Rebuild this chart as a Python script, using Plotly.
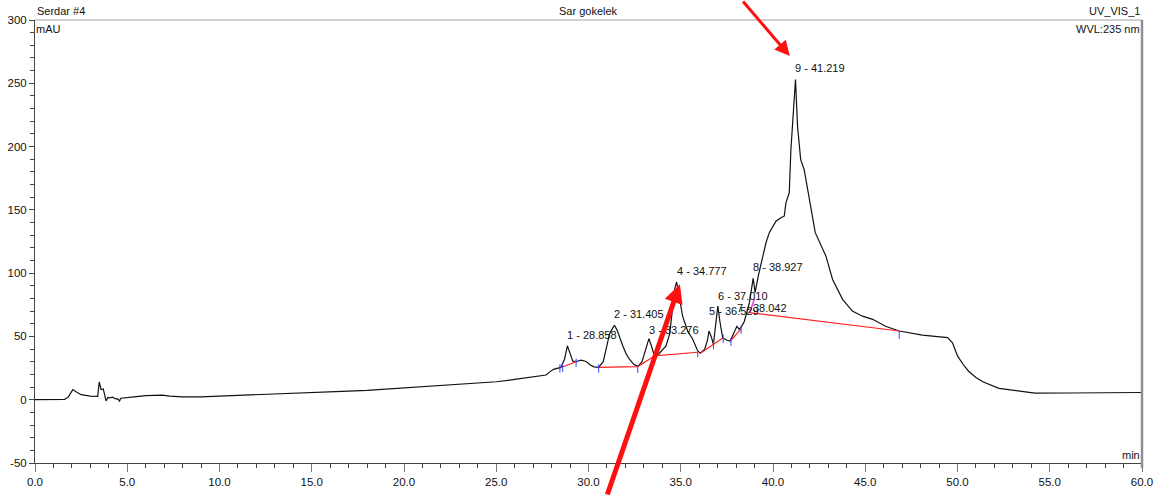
import plotly.graph_objects as go

# ---------------- data ----------------
time_min = [0.0, 1.0, 1.6, 1.8, 1.95, 2.05, 2.2, 2.5, 3.0, 3.4, 3.48, 3.58, 3.7, 3.78, 3.85,
            3.95, 4.05, 4.2, 4.35, 4.5, 4.58, 4.65, 5.0, 5.5, 6.0, 6.9, 7.3, 8.0, 9.0, 10.0,
            11.0, 12.0, 13.0, 14.0, 15.0, 16.0, 17.0, 18.0, 19.0, 20.0, 21.0, 22.0, 23.0,
            24.0, 25.0, 26.0, 26.8, 27.4, 27.7, 27.9, 28.1, 28.5, 28.7, 28.858, 29.0, 29.15,
            29.35, 29.6, 29.87, 30.1, 30.3, 30.55, 30.8, 31.0, 31.14, 31.25, 31.405, 31.55,
            31.7, 31.86, 32.05, 32.22, 32.45, 32.67, 32.9, 33.1, 33.276, 33.42, 33.57, 33.8,
            34.0, 34.2, 34.4, 34.55, 34.68, 34.777, 34.88, 35.0, 35.1, 35.38, 35.65, 35.92,
            36.06, 36.3, 36.45, 36.529, 36.65, 36.77, 36.9, 37.01, 37.12, 37.27, 37.5, 37.69,
            37.85, 38.042, 38.17, 38.3, 38.45, 38.6, 38.72, 38.927, 39.03, 39.2, 39.35, 39.62,
            39.8, 40.16, 40.45, 40.61, 40.7, 40.88, 40.97, 41.1, 41.219, 41.33, 41.5, 41.69,
            41.97, 42.29, 42.87, 43.23, 43.77, 44.3, 44.85, 45.4, 46.1, 46.84, 48.1, 49.46,
            49.73, 50.0, 50.3, 50.6, 51.0, 51.4, 52.25, 53.3, 54.2, 56.0, 58.0, 60.0]
absorbance_mau = [0.0, 0.0, 0.3, 2.0, 6.0, 8.0, 6.5, 4.0, 2.8, 2.6, 14.0, 8.0, 8.5, 4.0, -1.0,
                  1.8, 1.5, 2.0, 0.8, 0.5, -1.0, 1.2, 1.5, 2.5, 3.3, 3.6, 2.8, 2.2, 2.3, 2.8,
                  3.3, 3.8, 4.4, 5.0, 5.5, 6.2, 6.8, 7.4, 8.3, 9.2, 10.2, 11.2, 12.2,
                  13.0, 14.2, 16.0, 17.5, 18.5, 19.5, 22.0, 24.0, 25.5, 32.0, 42.5, 36.0, 30.5,
                  30.2, 31.2, 30.2, 27.5, 26.0, 25.5, 30.0, 42.0, 52.0, 55.0, 58.8, 55.0,
                  48.0, 42.5, 36.0, 32.0, 28.0, 26.2, 30.0, 40.0, 48.3, 42.0, 34.6, 36.0,
                  39.0, 42.5, 52.0, 70.0, 88.0, 93.0, 84.0, 73.0, 66.0, 54.0, 47.8, 38.5,
                  36.7, 40.0, 47.0, 54.3, 50.0, 43.8, 60.0, 74.0, 62.0, 49.0, 47.0, 46.4,
                  52.0, 58.0, 55.6, 58.0, 62.0, 70.0, 76.7, 96.0, 84.6, 97.7, 108.0, 124.0,
                  132.0, 141.0, 144.0, 145.0, 155.5, 163.4, 197.5, 229.0, 253.0, 216.0, 189.7, 181.8,
                  158.0, 132.0, 113.4, 95.0, 79.3, 70.0, 66.0, 63.5, 58.0, 54.3, 51.0, 49.0,
                  45.0, 34.6, 28.0, 22.5, 17.5, 14.0, 9.0, 6.8, 5.2, 5.3, 5.5, 5.7]

peak_numbers = [1, 2, 3, 4, 5, 6, 7, 8, 9]
peak_times = [28.858, 31.405, 33.276, 34.777, 36.529, 37.010, 38.042, 38.927, 41.219]
peak_heights = [42.5, 58.8, 48.3, 93.0, 54.3, 74.0, 58.0, 96.0, 253.0]

# integration baselines (segments) as time / level lists
baseline_segments = [
    ([28.5, 29.33], [25.5, 30.0]),
    ([30.55, 32.67, 33.57], [25.5, 26.2, 34.6]),
    ([33.57, 35.92], [34.6, 37.5]),
    ([36.06, 36.77, 37.3], [36.7, 43.8, 49.0]),
    ([37.69, 38.27], [46.4, 56.0]),
    ([38.72, 46.84], [68.8, 54.3]),
]
perp_drop = ([38.74, 39.0], [69.0, 80.0])
boundary_times = [28.45, 28.6, 29.33, 30.55, 32.67, 35.92, 36.77, 37.3, 37.72, 38.27, 46.84]
boundary_levels = [25.5, 26.0, 30.0, 25.5, 25.2, 37.5, 43.8, 49.0, 46.4, 56.0, 52.0]

x_ticks = [0, 5, 10, 15, 20, 25, 30, 35, 40, 45, 50, 55, 60]
y_ticks = [-50, 0, 50, 100, 150, 200, 250, 300]

# ---------------- figure ----------------
FONT = "Liberation Sans Narrow, Arial Narrow, Liberation Sans, Arial, sans-serif"
fig = go.Figure()

fig.add_trace(go.Scatter(x=time_min, y=absorbance_mau, mode="lines",
                         line=dict(color="#111111", width=1.2), hoverinfo="skip",
                         showlegend=False))

for xs, ys in baseline_segments:
    fig.add_trace(go.Scatter(x=xs, y=ys, mode="lines",
                             line=dict(color="#ff2020", width=1.2),
                             showlegend=False, hoverinfo="skip"))

fig.add_trace(go.Scatter(x=perp_drop[0], y=perp_drop[1], mode="lines",
                         line=dict(color="#e040e0", width=1.5),
                         showlegend=False, hoverinfo="skip"))

tick_x, tick_y = [], []
for t, lv in zip(boundary_times, boundary_levels):
    tick_x += [t, t, None]
    tick_y += [lv - 4, lv + 2.5, None]
fig.add_trace(go.Scatter(x=tick_x, y=tick_y, mode="lines",
                         line=dict(color="#3344ff", width=1),
                         showlegend=False, hoverinfo="skip"))

LABEL_SIZE = 11
label_lift_px = [3, 3, 1, 3, 12, 2, 10, 3, 3]
annotations = []
for n, t, h, lift in zip(peak_numbers, peak_times, peak_heights, label_lift_px):
    annotations.append(dict(x=t, y=h, xref="x", yref="y", text=f"{n} - {t:.3f}",
                            showarrow=False, xanchor="left", yanchor="bottom",
                            xshift=-2, yshift=lift,
                            font=dict(family=FONT, size=LABEL_SIZE, color="#111")))

# header / corner texts
txt = dict(family=FONT, size=LABEL_SIZE, color="#111")
annotations += [
    dict(x=0, y=1, xref="paper", yref="paper", text="Serdar #4", showarrow=False,
         xanchor="left", yanchor="bottom", xshift=0, yshift=1, font=txt),
    dict(x=0.5, y=1, xref="paper", yref="paper", text="Sar gokelek", showarrow=False,
         xanchor="center", yanchor="bottom", yshift=1, font=txt),
    dict(x=1, y=1, xref="paper", yref="paper", text="UV_VIS_1", showarrow=False,
         xanchor="right", yanchor="bottom", yshift=1, font=txt),
    dict(x=0, y=1, xref="paper", yref="paper", text="mAU", showarrow=False,
         xanchor="left", yanchor="top", xshift=-1, yshift=-1, font=txt),
    dict(x=1, y=1, xref="paper", yref="paper", text="WVL:235 nm", showarrow=False,
         xanchor="right", yanchor="top", yshift=-1, font=txt),
    dict(x=1, y=0, xref="paper", yref="paper", text="min", showarrow=False,
         xanchor="right", yanchor="bottom", yshift=0, font=txt),
]

# red highlight arrows
annotations += [
    dict(x=40.91, y=271.5, xref="x", yref="y", text="", showarrow=True,
         ax=-48, ay=-60, axref="pixel", ayref="pixel",
         arrowhead=2, arrowsize=1.0, arrowwidth=3, arrowcolor="#ff1010", standoff=0),
    dict(x=34.95, y=91.3, xref="x", yref="y", text="", showarrow=True,
         ax=-73, ay=215, axref="pixel", ayref="pixel",
         arrowhead=2, arrowsize=0.75, arrowwidth=5, arrowcolor="#ff1010", standoff=0),
]

fig.update_layout(
    width=1164, height=496,
    margin=dict(l=35, r=22, t=20, b=33, autoexpand=False),
    paper_bgcolor="white", plot_bgcolor="white",
    showlegend=False,
    font=dict(family=FONT, size=LABEL_SIZE, color="#111"),
    annotations=annotations,
    shapes=[
        dict(type="line", xref="paper", yref="paper", x0=0, x1=1, y0=1, y1=1,
             line=dict(color="#a0a0a0", width=1)),
        dict(type="line", xref="paper", yref="paper", x0=1, x1=1, y0=-0.012, y1=1,
             line=dict(color="#909090", width=2.5)),
    ],
)

fig.update_xaxes(range=[0, 60], tickvals=x_ticks, ticktext=[f"{v:.1f}" for v in x_ticks],
                 automargin=False,
                 showgrid=False, zeroline=False, showline=True, linecolor="#444",
                 linewidth=1, ticks="outside", ticklen=8, tickcolor="#777", tickwidth=1,
                 minor=dict(dtick=1, ticks="outside", ticklen=4, tickcolor="#444"),
                 tickfont=dict(family=FONT, size=11.5, color="#111"))
fig.update_yaxes(range=[-50, 300], tickvals=y_ticks, ticktext=[str(v) for v in y_ticks],
                 automargin=False,
                 showgrid=False, zeroline=False, showline=True, linecolor="#444",
                 linewidth=1, ticks="outside", ticklen=5, tickcolor="#444", tickwidth=1,
                 minor=dict(dtick=10, ticks="outside", ticklen=4, tickcolor="#444"),
                 tickfont=dict(family=FONT, size=11.5, color="#111"))

fig.write_html("out.html", config={"displayModeBar": False},
               post_script="document.body.style.margin='0px';document.body.style.overflow='hidden';")
